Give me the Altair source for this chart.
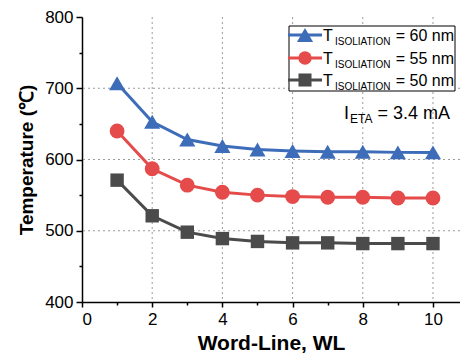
import altair as alt
import pandas as pd

# ---- data ----
word_line = [1, 2, 3, 4, 5, 6, 7, 8, 9, 10]
temp_60 = [707, 653, 628, 619, 614, 612, 611, 611, 610, 610]
temp_55 = [640, 587, 564, 554, 550, 548, 547, 547, 546, 546]
temp_50 = [571, 521, 498, 489, 485, 483, 483, 482, 482, 482]
series = ["60 nm", "55 nm", "50 nm"]
colors = ["#3d6cb9", "#e54b4b", "#4b4b4b"]
shapes = ["triangle-up", "circle", "square"]
sizes = [260, 180, 170]

x_major = [0, 2, 4, 6, 8, 10]
x_minor = [1, 3, 5, 7, 9]
y_major = [400, 500, 600, 700, 800]
y_minor = [450, 550, 650, 750]
x_grid = [2, 4, 6, 8, 10]
y_grid = [500, 600, 700]

FONT = "Liberation Sans"

rows = []
for s, vals in zip(series, [temp_60, temp_55, temp_50]):
    for w, t in zip(word_line, vals):
        rows.append({"wl": w, "temp": t, "series": s})
df = pd.DataFrame(rows)

xs = alt.Scale(domain=[0, 10.77], nice=False, zero=False)
ys = alt.Scale(domain=[400, 800], nice=False, zero=False)
cscale = alt.Scale(domain=series, range=colors)
sscale = alt.Scale(domain=series, range=shapes)
zscale = alt.Scale(domain=series, range=sizes)

grid_style = dict(color="#9a9a9a", strokeDash=[2, 3], strokeWidth=1)

gx = alt.Chart(pd.DataFrame({"v": x_grid})).mark_rule(**grid_style).encode(
    x=alt.X("v:Q", scale=xs, axis=None)
)
gy = alt.Chart(pd.DataFrame({"v": y_grid})).mark_rule(**grid_style).encode(
    y=alt.Y("v:Q", scale=ys, axis=None)
)

lines = alt.Chart(df).mark_line(strokeWidth=3).encode(
    x=alt.X("wl:Q", scale=xs,
            axis=alt.Axis(values=x_major, title="Word-Line, WL", orient="bottom",
                          grid=False, tickSize=5, labelPadding=4, titlePadding=5,
                          titleFontSize=21, format="d")),
    y=alt.Y("temp:Q", scale=ys,
            axis=alt.Axis(values=y_major, title="Temperature (℃)", orient="left",
                          grid=False, tickSize=6, labelPadding=3, titlePadding=8,
                          format="d")),
    color=alt.Color("series:N", scale=cscale, legend=None),
    detail="series:N",
)

points = alt.Chart(df).mark_point(filled=True, opacity=1).encode(
    x=alt.X("wl:Q", scale=xs, axis=None),
    y=alt.Y("temp:Q", scale=ys, axis=None),
    color=alt.Color("series:N", scale=cscale, legend=None),
    shape=alt.Shape("series:N", scale=sscale, legend=None),
    size=alt.Size("series:N", scale=zscale, legend=None),
)

minor = alt.Chart(df).mark_point(opacity=0).encode(
    x=alt.X("wl:Q", scale=xs,
            axis=alt.Axis(values=x_minor, labels=False, domain=False, grid=False,
                          tickSize=3, title=None, orient="bottom")),
    y=alt.Y("temp:Q", scale=ys,
            axis=alt.Axis(values=y_minor, labels=False, domain=False, grid=False,
                          tickSize=3, title=None, orient="left")),
)

# ---- manual legend (with subscripts) ----
one = pd.DataFrame({"a": [0]})
box = alt.Chart(one).mark_rect(fill="white", stroke="black", strokeWidth=1).encode(
    x=alt.value(207), x2=alt.value(373), y=alt.value(9), y2=alt.value(74)
)
legend_layers = [box]
row_y = [18, 41, 63]
for s, c, sh, sz, ry in zip(series, colors, shapes, sizes, row_y):
    legend_layers.append(
        alt.Chart(one).mark_rule(color=c, strokeWidth=3).encode(
            x=alt.value(206), x2=alt.value(240), y=alt.value(ry))
    )
    legend_layers.append(
        alt.Chart(one).mark_point(filled=True, opacity=1, color=c, shape=sh, size=sz).encode(
            x=alt.value(223), y=alt.value(ry))
    )
    legend_layers.append(
        alt.Chart(one).mark_text(font=FONT, fontSize=16, align="left", baseline="alphabetic",
                                 color="black").encode(
            x=alt.value(241), y=alt.value(ry + 6), text=alt.value("T"))
    )
    legend_layers.append(
        alt.Chart(one).mark_text(font=FONT, fontSize=10, align="left", baseline="alphabetic",
                                 color="black").encode(
            x=alt.value(253), y=alt.value(ry + 10), text=alt.value("ISOLIATION"))
    )
    legend_layers.append(
        alt.Chart(one).mark_text(font=FONT, fontSize=16, align="right", baseline="alphabetic",
                                 color="black").encode(
            x=alt.value(372), y=alt.value(ry + 6), text=alt.value("= " + s))
    )

ieta = [
    alt.Chart(one).mark_text(font=FONT, fontSize=18, align="left", baseline="alphabetic",
                             color="black").encode(
        x=alt.value(262), y=alt.value(102), text=alt.value("I")),
    alt.Chart(one).mark_text(font=FONT, fontSize=12, align="left", baseline="alphabetic",
                             color="black").encode(
        x=alt.value(268), y=alt.value(106), text=alt.value("ETA")),
    alt.Chart(one).mark_text(font=FONT, fontSize=18, align="right", baseline="alphabetic",
                             color="black").encode(
        x=alt.value(368), y=alt.value(102), text=alt.value("= 3.4 mA")),
]

chart = alt.layer(gx, gy, lines, points, minor, *legend_layers, *ieta).resolve_axis(
    x="independent", y="independent"
).properties(
    width=378, height=285,
    autosize=alt.AutoSizeParams(type="none"),
    padding={"left": 74, "top": 9, "right": 0, "bottom": 52},
).configure_view(stroke=None).configure_axis(
    domainColor="black", domainWidth=1.5, tickColor="black", tickWidth=1.5,
    labelFont=FONT, labelFontSize=17, labelColor="black",
    titleFont=FONT, titleFontSize=19, titleFontWeight="bold", titleColor="black",
)

chart.save("out.html", embed_options={"renderer": "svg", "actions": False})
